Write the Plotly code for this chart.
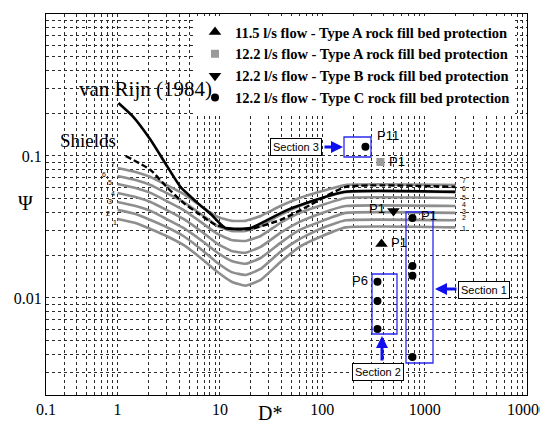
import math
import plotly.graph_objects as go

# ---------------- data ----------------
# van Rijn (1984) critical Shields parameter curve
vr_dstar = [1.02, 1.43, 2.10, 3.08, 4.12, 6.04, 8.09, 11.3, 19.9, 45.7, 161, 2000]
vr_psi = [0.236, 0.188, 0.130, 0.0837, 0.0605, 0.0467, 0.0391, 0.0311, 0.0311, 0.0417, 0.0558, 0.0558]

# Shields curve (dashed)
sh_dstar = [1.20, 2.10, 3.08, 4.41, 6.04, 9.06, 13.6, 19.9, 39.1, 76.7, 169, 2000]
sh_psi = [0.100, 0.0797, 0.0595, 0.0467, 0.0397, 0.0327, 0.0306, 0.0306, 0.0354, 0.0452, 0.0605, 0.0605]

# grey family of curves 1..7
curve_dstar = [1.0, 1.5, 2.1, 3.0, 4.4, 6.5, 9.5, 13, 17.8, 25, 39, 60, 100, 169, 2000]
curve_1 = [0.0360, 0.0337, 0.0306, 0.0273, 0.0236, 0.0191, 0.0152, 0.0130, 0.0122, 0.0134, 0.0179, 0.0229, 0.0273, 0.0314, 0.0314]
curve_2 = [0.0417, 0.0390, 0.0354, 0.0316, 0.0273, 0.0221, 0.0176, 0.0152, 0.0145, 0.0160, 0.0211, 0.0260, 0.0311, 0.0352, 0.0352]
curve_3 = [0.0474, 0.0444, 0.0410, 0.0360, 0.0311, 0.0256, 0.0208, 0.0182, 0.0174, 0.0191, 0.0244, 0.0301, 0.0349, 0.0397, 0.0397]
curve_4 = [0.0549, 0.0514, 0.0474, 0.0417, 0.0360, 0.0296, 0.0240, 0.0214, 0.0208, 0.0229, 0.0287, 0.0343, 0.0397, 0.0444, 0.0444]
curve_5 = [0.0635, 0.0595, 0.0549, 0.0482, 0.0417, 0.0343, 0.0282, 0.0256, 0.0252, 0.0273, 0.0337, 0.0397, 0.0452, 0.0506, 0.0506]
curve_6 = [0.0723, 0.0678, 0.0625, 0.0549, 0.0474, 0.0390, 0.0321, 0.0296, 0.0296, 0.0321, 0.0384, 0.0444, 0.0506, 0.0558, 0.0558]
curve_7 = [0.0823, 0.0772, 0.0711, 0.0625, 0.0540, 0.0444, 0.0372, 0.0349, 0.0349, 0.0378, 0.0444, 0.0506, 0.0567, 0.0625, 0.0625]
curve_names = ["1", "2", "3", "4", "5", "6", "7"]

# measured points
a115_dstar = [379]
a115_psi = [0.0240]
a122_dstar = [370]
a122_psi = [0.0907]
b122_dstar = [496]
b122_psi = [0.0410]
c122_dstar = [264, 346, 346, 346, 760, 760, 760, 760]
c122_psi = [0.116, 0.01297, 0.00952, 0.00605, 0.0366, 0.0168, 0.0143, 0.00384]

legend_names = [
    "11.5 l/s flow - Type A rock fill bed protection",
    "12.2 l/s flow - Type A rock fill bed protection",
    "12.2 l/s flow - Type B rock fill bed protection",
    "12.2 l/s flow - Type C rock fill bed protection",
]

x_tick_vals = [0.2, 1, 10, 100, 1000, 10000]
x_tick_text = ["0.1", "1", "10", "100", "1000", "10000"]
y_tick_vals = [0.01, 0.1, 1]
y_tick_text = ["0.01", "0.1", "1"]

# ---------------- layout geometry ----------------
OFF = 8                      # page body margin
W, H = 540, 417
L, R, T, B = 38, 21, 6, 30
PW, PH = W - L - R, H - T - B


def px(x):
    return (x - OFF - L) / PW


def py(y):
    return (H - B - (y - OFF)) / PH


SERIF = "Liberation Serif"
SANS = "Liberation Sans"

fig = go.Figure()

grey = "#8e8e8e"
curves = [curve_1, curve_2, curve_3, curve_4, curve_5, curve_6, curve_7]
for name, c in zip(curve_names, curves):
    fig.add_trace(go.Scatter(x=curve_dstar, y=c, mode="lines", name="curve " + name,
                             line=dict(color=grey, width=2.6, shape="spline", smoothing=0.4),
                             showlegend=False, hoverinfo="skip"))

fig.add_trace(go.Scatter(x=sh_dstar, y=sh_psi, mode="lines", name="Shields",
                         line=dict(color="black", width=2.4, dash="6px,3px", shape="spline", smoothing=0.5),
                         showlegend=False))
fig.add_trace(go.Scatter(x=vr_dstar, y=vr_psi, mode="lines", name="van Rijn (1984)",
                         line=dict(color="black", width=2.6, shape="spline", smoothing=0.5),
                         showlegend=False))

fig.add_trace(go.Scatter(x=a115_dstar, y=a115_psi, mode="markers", name=legend_names[0],
                         legendgroup="a", marker=dict(symbol="triangle-up", size=11, color="black")))
fig.add_trace(go.Scatter(x=a122_dstar, y=a122_psi, mode="markers", name=legend_names[1],
                         legendgroup="b", marker=dict(symbol="square", size=8, color="#9a9a9a")))
fig.add_trace(go.Scatter(x=b122_dstar, y=b122_psi, mode="markers", name=legend_names[2],
                         legendgroup="c", marker=dict(symbol="triangle-down", size=11, color="black")))
fig.add_trace(go.Scatter(x=c122_dstar, y=c122_psi, mode="markers", name=legend_names[3],
                         legendgroup="d", marker=dict(symbol="circle", size=8, color="black")))

# grid positions (1..9 per decade)
xgrid = [k * 10.0 ** e for e in range(-1, 4) for k in range(1, 10) if k * 10.0 ** e >= 0.2] + [10000]
ygrid = [k * 10.0 ** e for e in range(-3, 0) for k in range(1, 10) if k * 10.0 ** e >= 0.002] + [1]
xtext = [x_tick_text[x_tick_vals.index(v)] if v in x_tick_vals else "" for v in xgrid]
ytext = [y_tick_text[y_tick_vals.index(v)] if v in y_tick_vals else "" for v in ygrid]

axis_common = dict(showgrid=True, gridcolor="#2a2a2a", gridwidth=1, griddash="3px,3px",
                   showline=True, linecolor="black", linewidth=1.3, mirror=True,
                   ticks="", zeroline=False, automargin=False,
                   tickfont=dict(family=SERIF, size=16, color="black"))

fig.update_xaxes(type="log", range=[math.log10(0.2), 4], tickmode="array",
                 tickvals=xgrid, ticktext=xtext, **axis_common)
fig.update_yaxes(type="log", range=[math.log10(0.00207), 0], tickmode="array",
                 tickvals=ygrid, ticktext=ytext, **axis_common)

ann = []


def txt(x, y, text, size, family=SERIF):
    ann.append(dict(x=px(x), y=py(y), xref="paper", yref="paper", text=text, showarrow=False,
                    xanchor="center", yanchor="middle", font=dict(family=family, size=size, color="black")))


# axis titles
txt(270, 413, "D*", 20)
txt(25, 203, "Ψ", 20)
# curve names
txt(145, 89, "van Rijn (1984)", 21)
txt(88, 140, "Shields", 19)
# small curve numbers
left_lab = [(115, 222), (108, 213), (110, 201), (113, 193), (110, 183), (104, 175), (113, 164)]
right_lab = [(464, 228), (464, 218), (464, 211), (464, 204), (464, 197), (464, 188), (464, 180)]
for n, (lx, ly), (rx, ry) in zip(curve_names, left_lab, right_lab):
    txt(lx, ly, n, 7, SANS)
    txt(rx, ry, n, 7, SANS)


# point labels
def plab(d, p, text, anchor, xs, ys=0):
    ann.append(dict(x=math.log10(d), y=math.log10(p), xref="x", yref="y", text=text, showarrow=False,
                    xanchor=anchor, yanchor="middle", xshift=xs, yshift=ys,
                    font=dict(family=SANS, size=13, color="black")))


plab(c122_dstar[0], c122_psi[0], "P11", "left", 10, 11)
plab(a122_dstar[0], a122_psi[0], "P1", "left", 7, 0)
plab(b122_dstar[0], b122_psi[0], "P1", "right", -6, 2)
plab(c122_dstar[4], c122_psi[4], "P1", "left", 7, 2)
plab(a115_dstar[0], a115_psi[0], "P1", "left", 7, 1)
plab(c122_dstar[1], c122_psi[1], "P6", "right", -7, 1)


# section callouts
def callout(text, x, y, xa, ya):
    ann.append(dict(x=px(x), y=py(y), xref="paper", yref="paper", text=text, showarrow=False,
                    xanchor=xa, yanchor=ya, bgcolor="white", bordercolor="black", borderwidth=1,
                    borderpad=2, font=dict(family=SANS, size=11, color="black")))


callout("Section 3", 322, 147, "right", "middle")
callout("Section 1", 458, 290, "left", "middle")
callout("Section 2", 378, 372, "center", "middle")


def arrow(tx, ty, ax, ay):
    ann.append(dict(x=px(tx), y=py(ty), xref="paper", yref="paper", text="", showarrow=True,
                    ax=ax - tx, ay=ay - ty, arrowhead=2, arrowsize=0.8, arrowwidth=3, arrowcolor="#1010ee"))


arrow(343, 147, 323, 147)
arrow(435, 289, 458, 289)
arrow(382, 336, 382, 362)

shapes = []
for (x0, y0, x1, y1) in [(344, 137, 371, 157), (406, 212, 433, 363), (372, 274, 397, 334)]:
    shapes.append(dict(type="rect", xref="paper", yref="paper", x0=px(x0), x1=px(x1), y0=py(y0), y1=py(y1),
                       line=dict(color="#2a2aee", width=1.3), fillcolor="rgba(0,0,0,0)"))

fig.update_layout(
    width=W, height=H, margin=dict(l=L, r=R, t=T, b=B),
    paper_bgcolor="white", plot_bgcolor="white",
    annotations=ann, shapes=shapes,
    legend=dict(x=px(195), xanchor="left", y=py(16), yanchor="top", bgcolor="white",
                borderwidth=0, tracegroupgap=1, traceorder="normal",
                font=dict(family=SERIF, size=14.5, color="black", weight="bold")),
    showlegend=True,
)

fig.write_html("out.html")
